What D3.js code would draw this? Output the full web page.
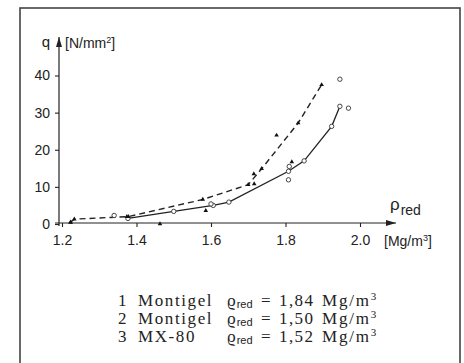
<!DOCTYPE html>
<html>
<head>
<meta charset="utf-8">
<script src="https://cdn.jsdelivr.net/npm/d3@7"></script>
<style>
  body{margin:0;background:#fff;}
  svg{display:block;}
</style>
</head>
<body>
<svg class="chart"></svg>
<script>
// curve 1 (solid, open circles)
var solidRho = [1.377, 1.50, 1.606, 1.648, 1.808, 1.850, 1.924, 1.946];
var solidQ   = [1.5,   3.4,  5.0,   5.9,   14.2,  17.0,  26.3,  31.7];
// curve 2/3 (dashed, filled marks)
var dashRho = [1.223, 1.233, 1.378, 1.578, 1.700, 1.736, 1.834, 1.897];
var dashQ   = [0.5,   1.3,   2.0,   6.6,   10.6,  14.9,  27.2,  37.5];
// loose open circles
var circRho = [1.340, 1.600, 1.808, 1.810, 1.946, 1.969];
var circQ   = [2.3,   5.4,   11.9,  15.5,  39.0,  31.2];
// loose filled points
var dotRho = [1.223, 1.374, 1.463, 1.586, 1.716, 1.715, 1.776, 1.817];
var dotQ   = [0.4,   2.0,   0.0,   3.6,   10.8,  13.5,  23.9,  16.7];

var xTicks = [1.2, 1.4, 1.6, 1.8, 2.0];
var yTicks = [0, 10, 20, 30, 40];
var legendNo   = ["1", "2", "3"];
var legendName = ["Montigel", "Montigel", "MX-80"];
var legendRho  = ["1,84", "1,50", "1,52"];

var width = 464, height = 363;
var svg = d3.select("svg.chart")
            .attr("width", width)
            .attr("height", height);

// frame
svg.append("rect")
   .attr("x", 20).attr("y", 8)
   .attr("width", 440).attr("height", 370)
   .attr("fill", "none")
   .attr("stroke", "#444")
   .attr("stroke-width", 1.6);

var xScale = d3.scaleLinear().domain([1.2, 2.0]).range([62, 360]);
var yScale = d3.scaleLinear().domain([0, 40]).range([224, 75.5]);

var axisFont = "Liberation Sans, Arial, sans-serif";

var xAxis = d3.axisBottom(xScale)
              .tickValues(xTicks)
              .tickFormat(d3.format(".1f"))
              .tickSize(4)
              .tickPadding(8);
var gx = svg.append("g")
   .attr("transform", "translate(0,223)")
   .call(xAxis);
var yAxis = d3.axisLeft(yScale)
              .tickValues(yTicks)
              .tickSize(4)
              .tickPadding(5);
var gy = svg.append("g")
   .attr("transform", "translate(59,0)")
   .call(yAxis);

[gx, gy].forEach(function(g){
  g.select(".domain").remove();
  g.selectAll("line").attr("stroke", "#222").attr("stroke-width", 1.1);
  g.selectAll("text")
   .attr("font-family", axisFont)
   .attr("font-size", 14)
   .attr("fill", "#222");
});

// axis lines with arrows
svg.append("defs").append("marker")
   .attr("id", "arr")
   .attr("viewBox", "0 0 10 6")
   .attr("refX", 10).attr("refY", 3)
   .attr("markerWidth", 10).attr("markerHeight", 6)
   .attr("markerUnits", "userSpaceOnUse")
   .attr("orient", "auto")
   .append("path")
   .attr("d", "M0,0L10,3L0,6Z")
   .attr("fill", "#222");

svg.append("line")
   .attr("x1", 55).attr("y1", 223)
   .attr("x2", 396).attr("y2", 223)
   .attr("stroke", "#222").attr("stroke-width", 1.2)
   .attr("marker-end", "url(#arr)");
svg.append("line")
   .attr("x1", 59).attr("y1", 226)
   .attr("x2", 59).attr("y2", 37)
   .attr("stroke", "#222").attr("stroke-width", 1.2)
   .attr("marker-end", "url(#arr)");

// axis titles
svg.append("text")
   .attr("x", 50).attr("y", 47)
   .attr("text-anchor", "end")
   .attr("font-family", axisFont).attr("font-size", 15)
   .attr("fill", "#222")
   .text("q");
var unitY = svg.append("text")
   .attr("x", 65).attr("y", 48)
   .attr("font-family", axisFont).attr("font-size", 14)
   .attr("fill", "#222");
unitY.append("tspan").text("[N/mm");
unitY.append("tspan").attr("font-size", 9).attr("dy", -5).text("2");
unitY.append("tspan").attr("dy", 5).text("]");

var rhoLab = svg.append("text")
   .attr("x", 390).attr("y", 210)
   .attr("font-family", axisFont).attr("font-size", 17)
   .attr("fill", "#222");
rhoLab.append("tspan").text("ρ");
rhoLab.append("tspan").attr("font-size", 14).attr("dy", 5).attr("dx", 1).text("red");

var unitX = svg.append("text")
   .attr("x", 384).attr("y", 246)
   .attr("font-family", axisFont).attr("font-size", 14)
   .attr("fill", "#222");
unitX.append("tspan").text("[Mg/m");
unitX.append("tspan").attr("font-size", 9).attr("dy", -5).text("3");
unitX.append("tspan").attr("dy", 5).text("]");

// lines
var solidPts = solidRho.map(function(r, i){ return [r, solidQ[i]]; });
var dashPts  = dashRho.map(function(r, i){ return [r, dashQ[i]]; });
var line = d3.line()
             .x(function(d){ return xScale(d[0]); })
             .y(function(d){ return yScale(d[1]); });

svg.append("path")
   .attr("d", line(solidPts))
   .attr("fill", "none")
   .attr("stroke", "#222")
   .attr("stroke-width", 1.3);
svg.append("path")
   .attr("d", line(dashPts))
   .attr("fill", "none")
   .attr("stroke", "#222")
   .attr("stroke-width", 1.4)
   .attr("stroke-dasharray", "6,4");

// open circles
var circPts = solidPts.concat(circRho.map(function(r, i){ return [r, circQ[i]]; }));
svg.selectAll("circle.open")
   .data(circPts)
   .enter()
   .append("circle")
   .attr("class", "open")
   .attr("cx", function(d){ return xScale(d[0]); })
   .attr("cy", function(d){ return yScale(d[1]); })
   .attr("r", 2.2)
   .attr("fill", "#fff")
   .attr("stroke", "#333")
   .attr("stroke-width", 0.9);

// filled marks
var fillPts = dashPts.concat(dotRho.map(function(r, i){ return [r, dotQ[i]]; }));
svg.selectAll("path.tri")
   .data(fillPts)
   .enter()
   .append("path")
   .attr("class", "tri")
   .attr("d", d3.symbol().type(d3.symbolTriangle).size(9))
   .attr("transform", function(d){
     return "translate(" + xScale(d[0]) + "," + yScale(d[1]) + ")";
   })
   .attr("fill", "#111");

// legend
var serif = "Liberation Serif, Times New Roman, serif";
var rows = svg.selectAll("g.leg")
   .data(legendNo)
   .enter()
   .append("g")
   .attr("class", "leg")
   .attr("transform", function(d, i){ return "translate(0," + (306 + i * 18) + ")"; });

function legText(x){
  return rows.append("text")
     .attr("x", x)
     .attr("font-family", serif).attr("font-size", 17)
     .attr("fill", "#222");
}
legText(118).text(function(d){ return d; });
legText(138).attr("letter-spacing", 1.6)
   .text(function(d, i){ return legendName[i]; });
var rho = legText(227);
rho.append("tspan").text("ϱ");
rho.append("tspan")
   .attr("font-family", axisFont).attr("font-size", 11)
   .attr("dx", 1).attr("dy", 2).text("red");
legText(261).text("=");
legText(279).attr("letter-spacing", 1.4)
   .text(function(d, i){ return legendRho[i]; });
var mg = legText(322).attr("letter-spacing", 1.8);
mg.append("tspan").text("Mg/m");
mg.append("tspan").attr("font-size", 11).attr("dy", -6).text("3");
</script>
</body>
</html>
